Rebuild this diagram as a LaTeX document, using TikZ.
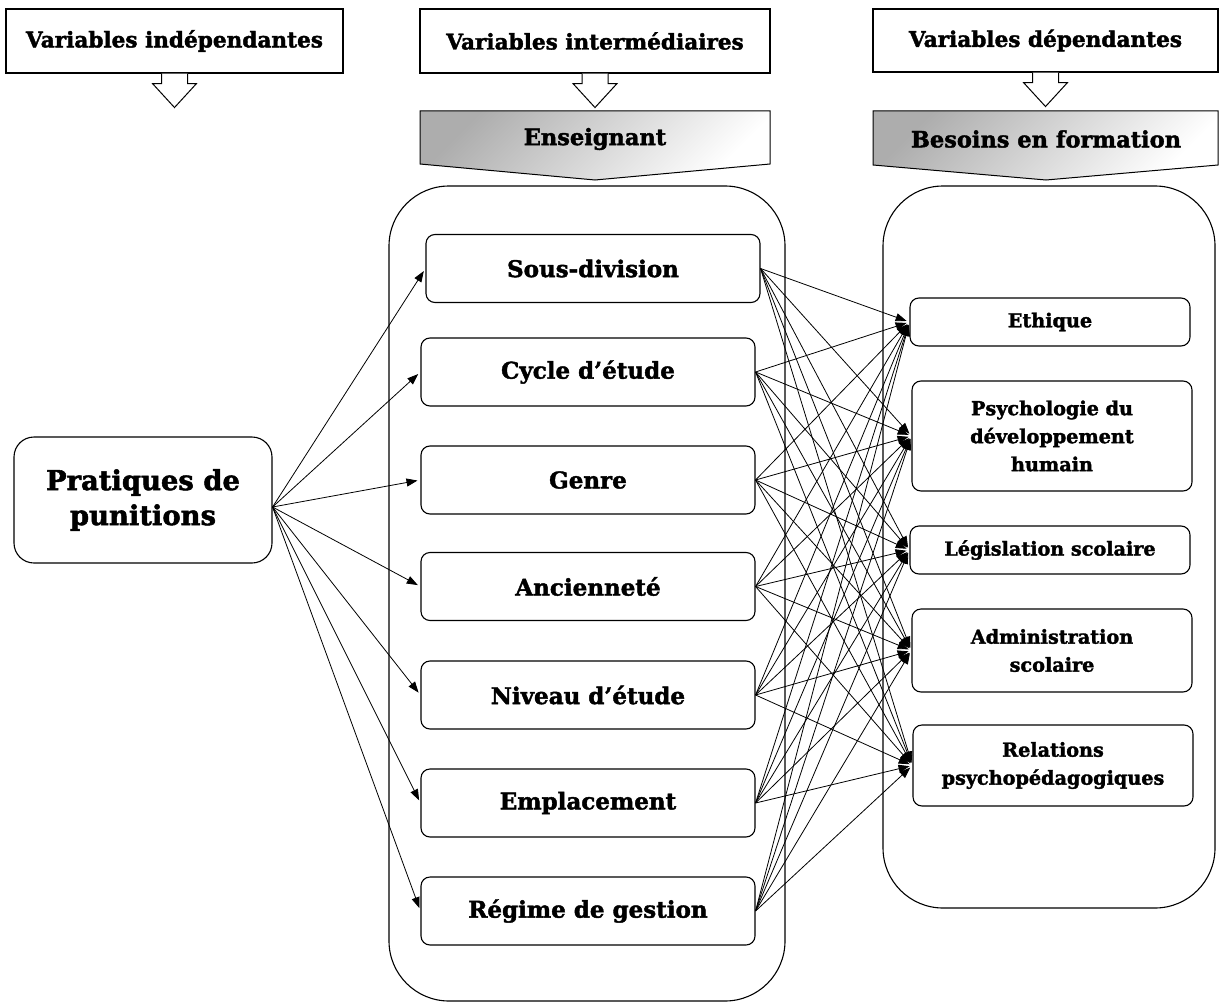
\documentclass[tikz,border=0pt]{standalone}
\usepackage{fontspec}
\setmainfont{DejaVu Serif}[BoldFeatures={FakeBold=1.8}]
\usetikzlibrary{arrows.meta,calc}
\begin{document}
\begin{tikzpicture}[x=1pt,y=-1pt,
  hdr/.style={draw, line width=1.1pt, fill=white, inner sep=0pt, font=\bfseries\fontsize{21.6}{26}\selectfont},
  mbox/.style={draw, line width=1.1pt, rounded corners=9pt, fill=white, minimum width=334pt, minimum height=68pt, inner sep=0pt, font=\bfseries\fontsize{23}{27}\selectfont},
  rbox/.style={draw, line width=1.1pt, rounded corners=9pt, fill=white, minimum width=280pt, inner sep=0pt, align=center, font=\bfseries\fontsize{19.2}{28}\selectfont},
  cont/.style={draw, line width=1.1pt, rounded corners=60pt, inner sep=0pt},
  conn/.style={line width=0.8pt, shorten >=3pt, -{Triangle[length=11pt,width=8pt]}},
  holl/.style={draw, line width=1pt, fill=white},
  ban/.style={draw, line width=1pt, left color=black!32, right color=white, shading angle=45},
  btxt/.style={font=\bfseries\fontsize{22.5}{26}\selectfont}
]
\useasboundingbox (0,0) rectangle (1220,1003);
\fill[white] (0,0) rectangle (1220,1003);

% containers
\node[cont, minimum width=396pt, minimum height=815pt] (c1) at (587,593.5) {};
\node[cont, minimum width=332pt, minimum height=722pt] (c2) at (1049,547) {};

% banners
\shadedraw[ban] (420,111) -- (770,111) -- (770,164) -- (595,180) -- (420,164) -- cycle;
\node[btxt] (b1) at (595,139) {Enseignant};
\shadedraw[ban] (873,111) -- (1218,111) -- (1218,165) -- (1046,180) -- (873,165) -- cycle;
\node[btxt] (b2) at (1046,139) {Besoins en formation};

% headers
\node[hdr, minimum width=337pt, minimum height=64pt] (h1) at (174.5,41) {Variables indépendantes};
\node[hdr, minimum width=350pt, minimum height=64pt] (h2) at (595,41) {Variables intermédiaires};
\node[hdr, minimum width=345pt, minimum height=63pt] (h3) at (1045.5,40.5) {Variables dépendantes};

\foreach \h in {h1,h2,h3}
  \draw[holl] ($(\h.south)+(-13,0)$) -- ++(0,10) -- ++(-9,0) -- ++(22,24) -- ++(22,-24) -- ++(-9,0) -- ++(0,-10);

% source
\node[draw, line width=1.1pt, rounded corners=20pt, minimum width=258pt, minimum height=126pt, inner sep=0pt, align=center, font=\bfseries\fontsize{27.4}{35}\selectfont] (src) at (143,500) {Pratiques de\\punitions};

% middle boxes
\node[mbox] (m1) at (593,268.5) {Sous-division};
\node[mbox] (m2) at (588,372) {Cycle d’étude};
\node[mbox] (m3) at (588,480) {Genre};
\node[mbox] (m4) at (588,586.5) {Ancienneté};
\node[mbox] (m5) at (588,695) {Niveau d’étude};
\node[mbox] (m6) at (588,803) {Emplacement};
\node[mbox] (m7) at (588,911) {Régime de gestion};

% right boxes
\node[rbox, minimum height=48pt] (r1) at (1050,322) {Ethique};
\node[rbox, minimum height=110pt] (r2) at (1052,436) {Psychologie du\\développement\\humain};
\node[rbox, minimum height=48pt] (r3) at (1050,550) {Législation scolaire};
\node[rbox, minimum height=83pt] (r4) at (1052,650.5) {Administration\\scolaire};
\node[rbox, minimum height=81pt] (r5) at (1053,765.5) {Relations\\psychopédagogiques};

% connectors
\foreach \m in {m1,m2,m3,m4,m5,m6,m7}
  \draw[conn] ([yshift=-7pt]src.east) -- (\m.west);
\foreach \m in {m1,m2,m3,m4,m5,m6,m7}
  \foreach \r in {r1,r2,r3,r4,r5}
    \draw[conn] (\m.east) -- (\r.west);
\end{tikzpicture}
\end{document}
